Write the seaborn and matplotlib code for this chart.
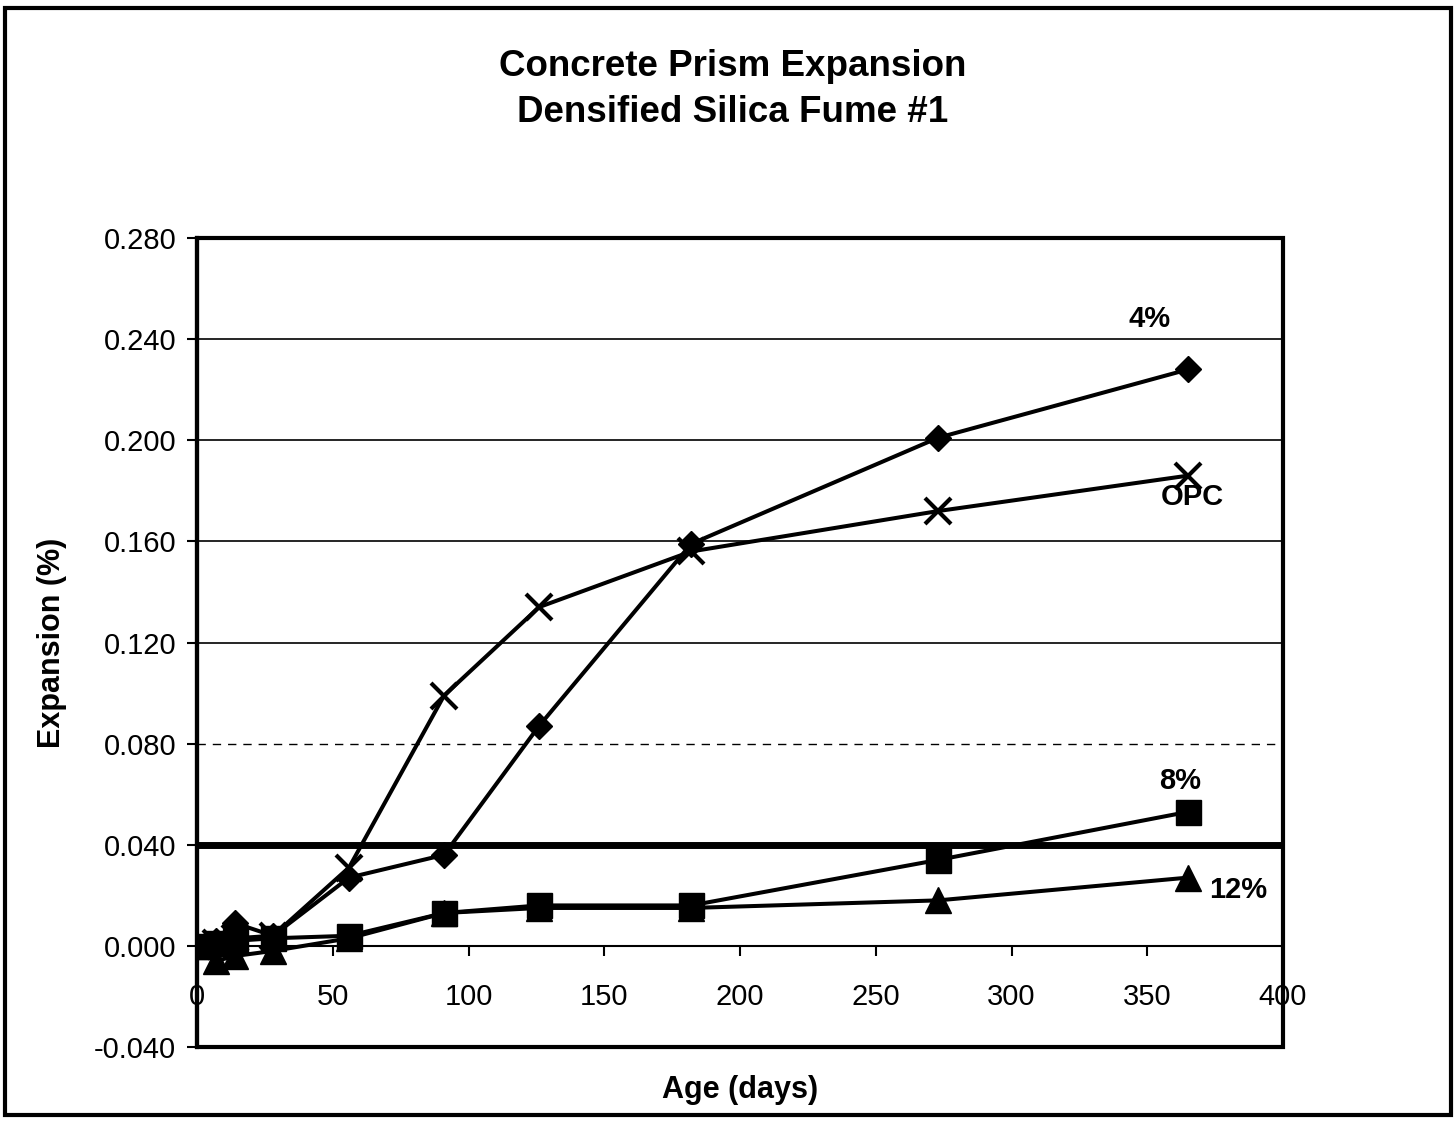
import numpy as np
import pandas as pd
import matplotlib
matplotlib.use("Agg")
import matplotlib.pyplot as plt
from matplotlib.patches import Rectangle
import seaborn as sns

# Age of the concrete prisms (days)
days = [0, 7, 14, 28, 56, 91, 126, 182, 273, 365]

# Expansion (%) for each mix
opc = [0.000, 0.001, 0.003, 0.004, 0.031, 0.099, 0.134, 0.156, 0.172, 0.186]
sf_4 = [0.000, 0.002, 0.009, 0.004, 0.027, 0.036, 0.087, 0.159, 0.201, 0.228]
sf_8 = [0.000, 0.001, 0.002, 0.003, 0.004, 0.013, 0.016, 0.016, 0.034, 0.053]
sf_12 = [0.000, -0.006, -0.004, -0.002, 0.003, 0.013, 0.015, 0.015, 0.018, 0.027]

y_ticks = [-0.040, 0.000, 0.040, 0.080, 0.120, 0.160, 0.200, 0.240, 0.280]
x_ticks = [0, 50, 100, 150, 200, 250, 300, 350, 400]
limit = 0.040

sns.set_theme(style="white")
plt.rcParams["font.family"] = ["Liberation Sans", "DejaVu Sans"]
plt.rcParams.update({
    "text.color": "black",
    "axes.labelcolor": "black",
    "xtick.color": "black",
    "ytick.color": "black",
})

fig = plt.figure(figsize=(14.55, 11.21), dpi=100)
ax = fig.add_axes([197 / 1455, 1 - 1047 / 1121, 1086 / 1455, 809 / 1121])

frames = {
    "12%": (sf_12, "^", 18.5, 1.0),
    "OPC": (opc, "x", 19, 3.0),
    "4%": (sf_4, "D", 13.5, 1.0),
    "8%": (sf_8, "s", 18, 1.0),
}
for name, (vals, mk, ms, mew) in frames.items():
    df = pd.DataFrame({"Age (days)": days, "Expansion (%)": vals})
    sns.lineplot(data=df, x="Age (days)", y="Expansion (%)", ax=ax,
                 color="black", lw=2.9, marker=mk, markersize=ms,
                 markeredgewidth=mew, markeredgecolor="black",
                 markerfacecolor="black", zorder=5)

# horizontal gridlines
for yv in y_ticks[2:]:
    if yv == limit:
        ax.axhline(yv, color="black", lw=5, zorder=3)
    elif abs(yv - 0.080) < 1e-9:
        ax.axhline(yv, color="black", lw=1.0, ls=(0, (6, 5)), zorder=2)
    else:
        ax.axhline(yv, color="black", lw=1.2, zorder=2)

ax.set_xlim(0, 400)
ax.set_ylim(-0.040, 0.280)
ax.set_xticks(x_ticks)
ax.set_yticks(y_ticks)
ax.set_xticklabels([str(v) for v in x_ticks])
ax.set_yticklabels([f"{v:.3f}" for v in y_ticks])

# x axis crosses at zero
for s in ["top", "right"]:
    ax.spines[s].set_visible(False)
ax.spines["bottom"].set_position(("data", 0))
ax.spines["bottom"].set_linewidth(1.5)
ax.spines["bottom"].set_color("black")
ax.spines["left"].set_linewidth(3)
ax.spines["left"].set_color("black")
ax.add_patch(Rectangle((0, 0), 1, 1, transform=ax.transAxes, fill=False,
                       lw=3, edgecolor="black", clip_on=False, zorder=6))

ax.tick_params(axis="x", direction="out", length=7, width=1.5, color="black",
               labelsize=21, pad=20, bottom=True, labelcolor="black")
ax.tick_params(axis="y", direction="out", length=7, width=1.5, color="black",
               labelsize=21, pad=8, left=True, labelcolor="black")

ax.set_xlabel("Age (days)", fontsize=22, fontweight="bold", color="black")
ax.set_ylabel("Expansion (%)", fontsize=22, fontweight="bold", color="black")
ax.xaxis.set_label_coords(0.5, -0.035)
ax.yaxis.set_label_coords(-0.12, 0.5)

# series labels
ax.text(351, 0.248, "4%", fontsize=21, fontweight="bold", ha="center", va="center")
ax.text(366.5, 0.1775, "OPC", fontsize=21, fontweight="bold", ha="center", va="center")
ax.text(362, 0.0652, "8%", fontsize=21, fontweight="bold", ha="center", va="center")
ax.text(383.4, 0.0221, "12%", fontsize=21, fontweight="bold", ha="center", va="center")

fig.text(733 / 1455, 1 - 67 / 1121, "Concrete Prism Expansion", fontsize=26.5,
         fontweight="bold", ha="center", va="center")
fig.text(733 / 1455, 1 - 113 / 1121, "Densified Silica Fume #1", fontsize=26.5,
         fontweight="bold", ha="center", va="center")

# outer chart border
fig.patches.append(Rectangle((5 / 1455, 1 - 1115 / 1121), 1446 / 1455, 1107 / 1121,
                             transform=fig.transFigure, fill=False, lw=3,
                             edgecolor="black"))

fig.savefig("out.png", dpi=100, facecolor="white")
